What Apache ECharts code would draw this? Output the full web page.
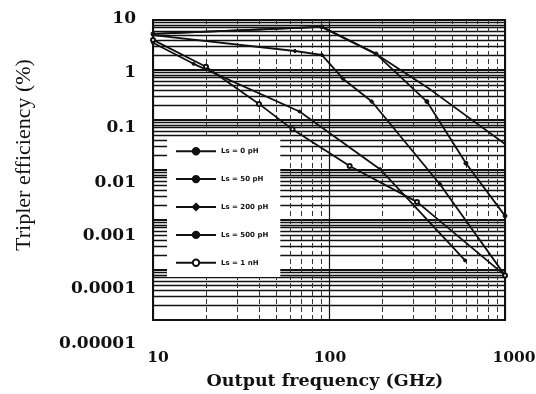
<!DOCTYPE html>
<html>
<head>
<meta charset="utf-8">
<script src="https://cdn.jsdelivr.net/npm/echarts@6/dist/echarts.min.js"></script>
<style>
html,body{margin:0;padding:0;background:#fff;}
#c{width:536px;height:394px;}
</style>
</head>
<body>
<div id="c"></div>
<script>
// ---- data ----
var seriesNames = ['Ls = 0 pH', 'Ls = 50 pH', 'Ls = 200 pH', 'Ls = 500 pH', 'Ls = 1 nH'];

var freq0 = [10, 91, 185, 375, 1000];
var eff0  = [5.3, 7.3, 2.1, 0.41, 0.033];

var freq50 = [10, 91, 185, 360, 600, 1000];
var eff50  = [5.3, 7.3, 2.1, 0.234, 0.0137, 0.00121];

var freq200 = [10, 64, 91, 120, 175, 427, 1000];
var eff200  = [5.0, 2.4, 2.0, 0.67, 0.234, 0.0052, 0.000078];

var freq500 = [10, 17, 68, 195, 593];
var eff500  = [3.5, 1.33, 0.148, 0.0104, 0.000155];

var freq1n = [10, 20, 40, 62, 131, 316, 1000];
var eff1n  = [4.0, 1.16, 0.21, 0.065, 0.012, 0.0023, 0.000078];

var xTickLabels = ['10', '100', '1000'];
var yTickLabels = ['0.00001', '0.0001', '0.001', '0.01', '0.1', '1', '10'];

function pairs(xs, ys) { return xs.map(function (x, i) { return [x, ys[i]]; }); }

// log-paper minor grid values
var yMinor = [];
for (var n = -5; n <= 0; n++) for (var k = 2; k <= 9; k++) yMinor.push(k * Math.pow(10, n));
var xMinor = [];
for (var m = 1; m <= 2; m++) for (var j = 2; j <= 9; j++) xMinor.push(j * Math.pow(10, m));

var serif = '"Liberation Serif", "DejaVu Serif", serif';
var dserif = '"DejaVu Serif", serif';
var black = '#111';

// label nudges (scan offsets in the reference)
var yLabelShift = [24, 19, 16, 13, 8, 3, -1];
var xLabelShift = [5, 1, 9];

var yRich = {};
yLabelShift.forEach(function (d, i) {
  yRich['y' + i] = { fontFamily: dserif, fontSize: 17, fontWeight: 'bold', color: black,
    padding: d >= 0 ? [2 * d, 0, 0, 0] : [0, 0, -2 * d, 0] };
});
var xRich = {};
xLabelShift.forEach(function (d, i) {
  xRich['x' + i] = { fontFamily: dserif, fontSize: 15.5, fontWeight: 'bold', color: black,
    padding: [0, 0, 0, 2 * d] };
});

var chart = echarts.init(document.getElementById('c'));

function lineSeries(name, xs, ys, symbol, size) {
  return {
    name: name, type: 'line', data: pairs(xs, ys),
    symbol: symbol, symbolSize: size, showSymbol: symbol !== 'none',
    lineStyle: { color: black, width: 1.8 },
    itemStyle: { color: black, borderColor: black, borderWidth: 1 },
    z: 5, animation: false
  };
}

var option = {
  animation: false,
  backgroundColor: '#fff',
  grid: { left: 153, right: 31, top: 20, bottom: 74, containLabel: false, outerBoundsMode: 'none',
    show: true, borderColor: black, borderWidth: 2, backgroundColor: 'transparent' },
  legend: {
    orient: 'vertical', left: 167, top: 137,
    backgroundColor: '#fff', padding: [10, 12, 10, 8],
    itemWidth: 40, itemHeight: 8, itemGap: 19.5,
    textStyle: { fontFamily: '"DejaVu Sans", sans-serif', fontSize: 7, fontWeight: 'bold', color: black },
    data: seriesNames, z: 10
  },
  xAxis: {
    type: 'log', logBase: 10, min: 10, max: 1000,
    axisLine: { show: true, lineStyle: { color: black, width: 2 } },
    axisTick: { show: false },
    splitLine: { show: true, lineStyle: { color: black, width: 1.2 } },
    axisLabel: {
      margin: 30, rich: xRich,
      formatter: function (v) { var i = Math.round(Math.log10(v)) - 1; return xTickLabels[i] ? '{x' + i + '|' + xTickLabels[i] + '}' : ''; }
    },
    name: 'Output frequency (GHz)', nameLocation: 'middle', nameGap: 52,
    nameTextStyle: { color: black, fontFamily: dserif, fontSize: 17.5, fontWeight: 'bold', padding: [0, 8, 0, 0] }
  },
  yAxis: {
    type: 'log', logBase: 10, min: 0.00001, max: 10,
    axisLine: { show: true, lineStyle: { color: black, width: 2 } },
    axisTick: { show: false },
    splitLine: { show: true, lineStyle: { color: black, width: 2.2 } },
    axisLabel: {
      margin: 17, rich: yRich,
      formatter: function (v) { var i = Math.round(Math.log10(v)) + 5; return yTickLabels[i] ? '{y' + i + '|' + yTickLabels[i] + '}' : ''; }
    },
    name: 'Tripler efficiency (%)', nameLocation: 'middle', nameGap: 118, nameRotate: 90,
    nameTextStyle: { color: black, fontFamily: serif, fontSize: 22, padding: [0, 0, 0, 30] }
  },
  series: [
    {
      name: 'grid-minor', type: 'line', data: [], silent: true, z: 1,
      markLine: {
        silent: true, symbol: 'none', label: { show: false }, animation: false, precision: 10,
        data: yMinor.map(function (v) { return { yAxis: v, lineStyle: { color: '#111', width: 1.3, type: 'solid' } }; })
          .concat(xMinor.map(function (v) { return { xAxis: v, lineStyle: { color: '#333', width: 1, type: [5, 3] } }; }))
      }
    },
    lineSeries(seriesNames[0], freq0, eff0, 'none', 0),
    lineSeries(seriesNames[1], freq50, eff50, 'circle', 4),
    lineSeries(seriesNames[2], freq200, eff200, 'diamond', 4),
    lineSeries(seriesNames[3], freq500, eff500, 'circle', 3),
    lineSeries(seriesNames[4], freq1n, eff1n, 'emptyCircle', 4)
  ]
};
chart.setOption(option);
</script>
</body>
</html>
